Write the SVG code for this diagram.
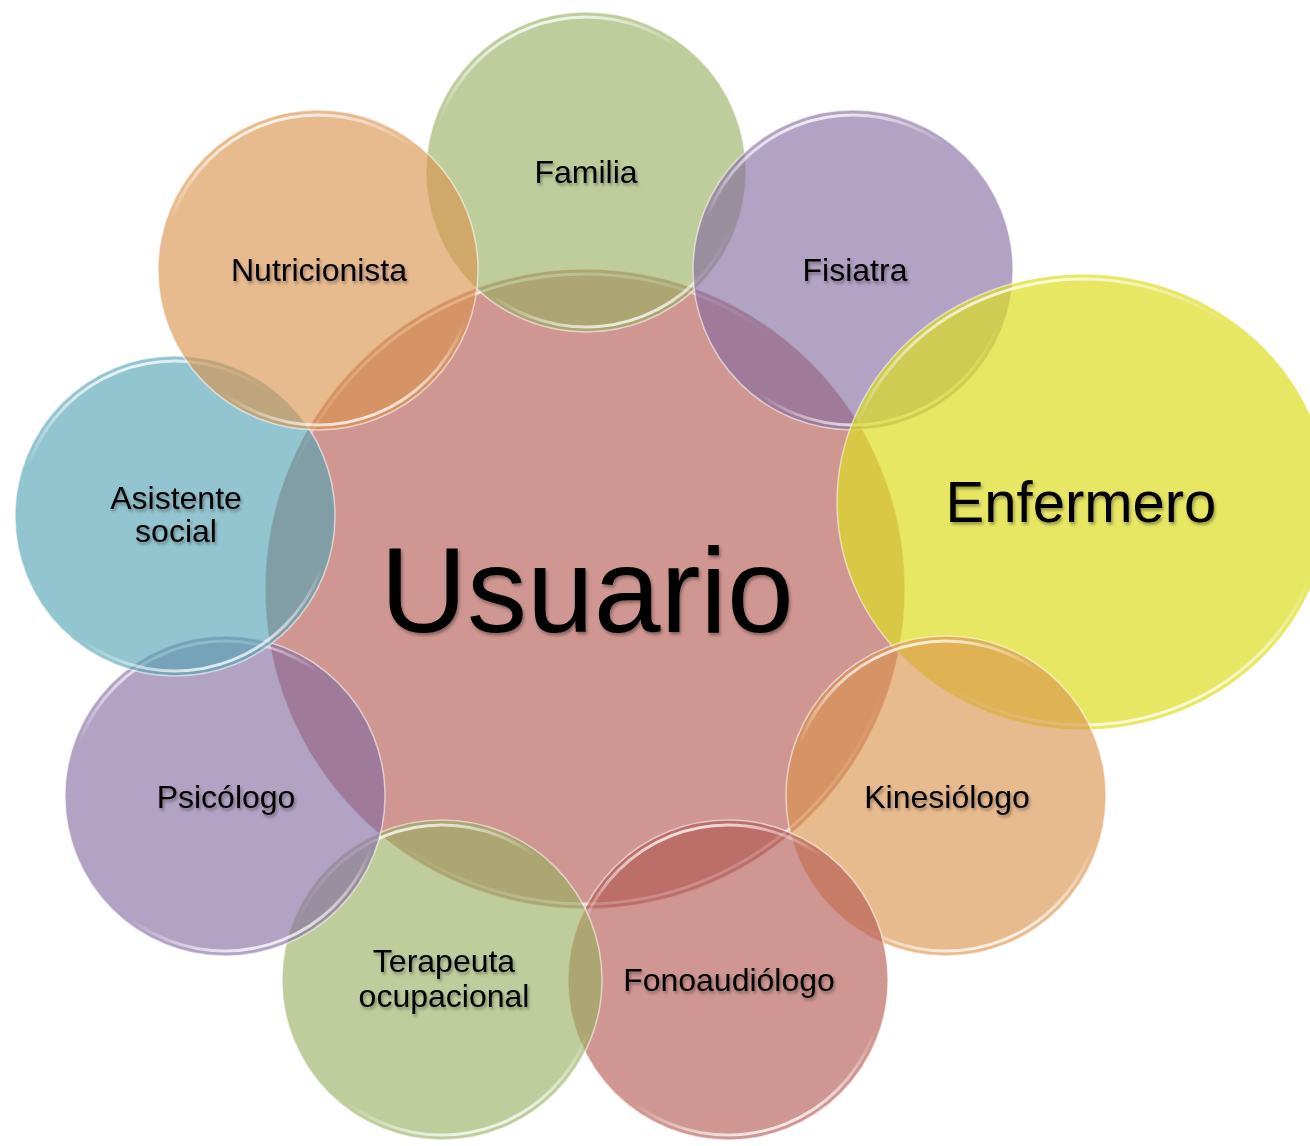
<svg xmlns="http://www.w3.org/2000/svg" width="1310" height="1146" viewBox="0 0 1310 1146">
<defs>
<linearGradient id="rim" x1="0.35" y1="0" x2="0.65" y2="1">
<stop offset="0" stop-color="#fff" stop-opacity="0.85"/>
<stop offset="0.22" stop-color="#fff" stop-opacity="0"/>
<stop offset="0.78" stop-color="#fff" stop-opacity="0"/>
<stop offset="1" stop-color="#fff" stop-opacity="0.85"/>
</linearGradient>
<filter id="ts" x="-10%" y="-30%" width="130%" height="170%">
<feDropShadow dx="1.5" dy="2.5" stdDeviation="1.8" flood-color="#000" flood-opacity="0.35"/>
</filter>
<style>
.c{fill-opacity:0.62;stroke:#fff;stroke-opacity:0.55;stroke-width:1.5}
.r{fill:none;stroke:url(#rim);stroke-width:3}
.t{font-family:"Liberation Sans",Arial,sans-serif;font-size:32px;fill:#000;text-anchor:middle;filter:url(#ts)}
.green{fill:#98AE5F}.purple{fill:#8369A0}.orange{fill:#DA914A}.aqua{fill:#51A1B3}.red{fill:#B1554F}
</style>
</defs>
<rect width="1310" height="1146" fill="#fff"/>
<g id="connectors"/>
<g id="usuario">
<circle class="c red" cx="585" cy="589" r="320"/>
<circle class="r" cx="585" cy="589" r="315"/>
<text class="t" x="587" y="632" style="font-size:120px">Usuario</text>
</g>
<g id="familia">
<circle class="c green" cx="586" cy="172" r="160"/>
<circle class="r" cx="586" cy="172" r="155"/>
<text class="t" x="586" y="183">Familia</text>
</g>
<g id="fisiatra">
<circle class="c purple" cx="853" cy="270" r="160"/>
<circle class="r" cx="853" cy="270" r="155"/>
<text class="t" x="855" y="281">Fisiatra</text>
</g>
<g id="enfermero">
<ellipse cx="1083" cy="502" rx="246" ry="228" fill="#DDDD22" fill-opacity="0.7" stroke="#fff" stroke-opacity="0.55" stroke-width="1.5"/>
<ellipse class="r" cx="1083" cy="502" rx="241" ry="223"/>
<text class="t" x="1081" y="522" style="font-size:58px">Enfermero</text>
</g>
<g id="kinesiologo">
<circle class="c orange" cx="946" cy="796" r="160"/>
<circle class="r" cx="946" cy="796" r="155"/>
<text class="t" x="947" y="808">Kinesiólogo</text>
</g>
<g id="fonoaudiologo">
<circle class="c red" cx="728" cy="980" r="160"/>
<circle class="r" cx="728" cy="980" r="155"/>
<text class="t" x="729" y="991">Fonoaudiólogo</text>
</g>
<g id="terapeuta">
<circle class="c green" cx="442" cy="980" r="160"/>
<circle class="r" cx="442" cy="980" r="155"/>
<text class="t" x="444" y="972">Terapeuta</text>
<text class="t" x="444" y="1007">ocupacional</text>
</g>
<g id="psicologo">
<circle class="c purple" cx="225" cy="796" r="160"/>
<circle class="r" cx="225" cy="796" r="155"/>
<text class="t" x="226" y="808">Psicólogo</text>
</g>
<g id="asistente">
<circle class="c aqua" cx="175" cy="516" r="160"/>
<circle class="r" cx="175" cy="516" r="155"/>
<text class="t" x="176" y="509">Asistente</text>
<text class="t" x="176" y="542">social</text>
</g>
<g id="nutricionista">
<circle class="c orange" cx="318" cy="270" r="160"/>
<circle class="r" cx="318" cy="270" r="155"/>
<text class="t" x="319" y="281">Nutricionista</text>
</g>
</svg>
